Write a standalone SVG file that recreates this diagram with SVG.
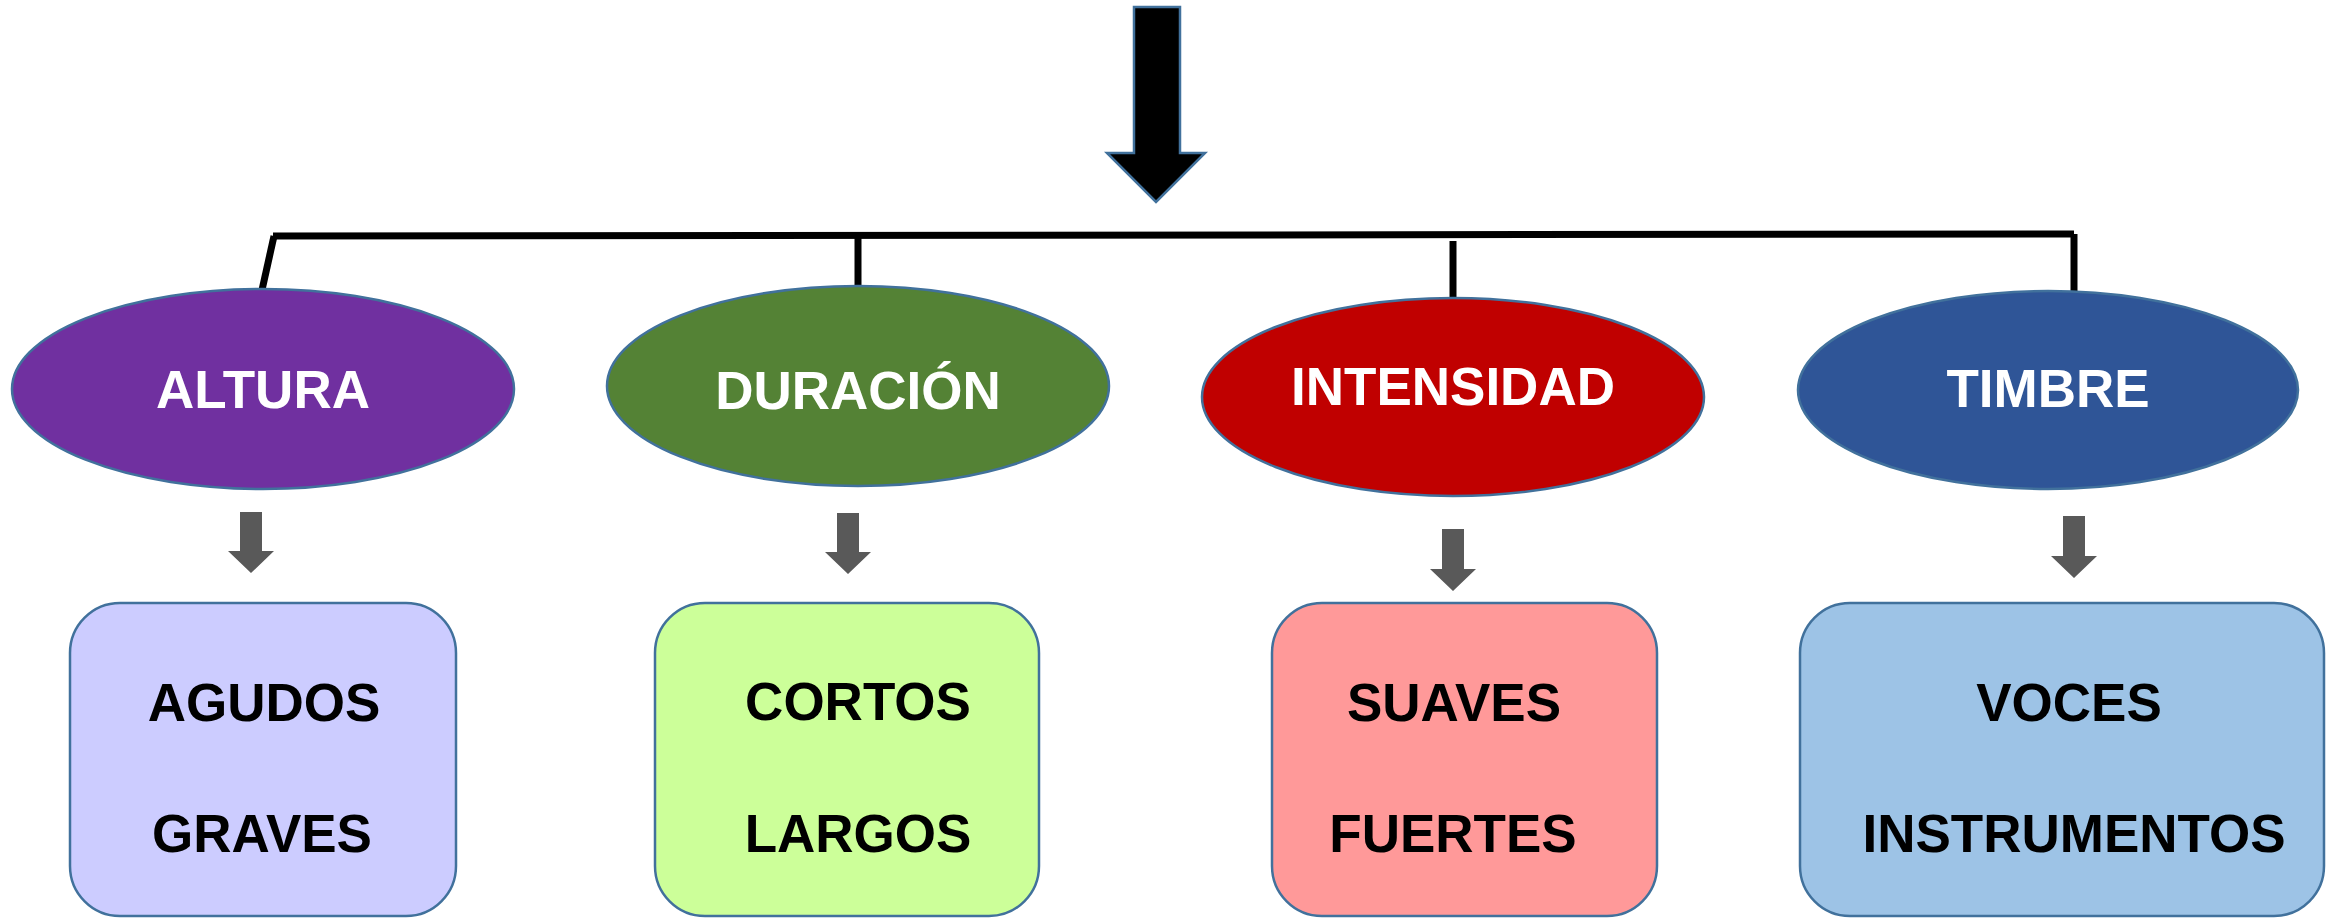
<svg xmlns="http://www.w3.org/2000/svg" width="2336" height="919" viewBox="0 0 2336 919">
<defs>
<style>
.ell{stroke:#41719C;stroke-width:2.5}
.box{stroke:#41719C;stroke-width:2.5}
.ht{font-family:"Liberation Sans",Arial,sans-serif;font-weight:bold;font-size:53px;fill:#ffffff;text-anchor:middle}
.bt{font-family:"Liberation Sans",Arial,sans-serif;font-weight:bold;font-size:53px;fill:#000000;text-anchor:middle}
.conn{stroke:#000000;stroke-width:7;fill:none}
.garrow{fill:#595959}
</style>
</defs>
<rect width="2336" height="919" fill="#ffffff"/>
<g id="connectors">
<path d="M1134,7 H1180 V153 H1205 L1156,202 L1107,153 H1134 Z" fill="#000000" stroke="#41719C" stroke-width="2.5"/>
<line class="conn" x1="273" y1="236" x2="2074" y2="234"/>
<line class="conn" x1="274" y1="236" x2="262" y2="290"/>
<line class="conn" x1="858" y1="237" x2="858" y2="287"/>
<line class="conn" x1="1453" y1="241" x2="1453" y2="298"/>
<line class="conn" x1="2074" y1="234" x2="2074" y2="292"/>
<path class="garrow" d="M240,512 H262 V551 H274 L251,573 L228,551 H240 Z"/>
<path class="garrow" d="M837,513 H859 V552 H871 L848,574 L825,552 H837 Z"/>
<path class="garrow" d="M1442,529 H1464 V569 H1476 L1453,591 L1430,569 H1442 Z"/>
<path class="garrow" d="M2063,516 H2085 V556 H2097 L2074,578 L2051,556 H2063 Z"/>
</g>
<g id="altura">
<ellipse class="ell" cx="263" cy="389" rx="251" ry="100" fill="#7030A0"/>
<text class="ht" x="263" y="408">ALTURA</text>
</g>
<g id="duracion">
<ellipse class="ell" cx="858" cy="386" rx="251" ry="100" fill="#548235"/>
<text class="ht" x="858" y="409">DURACIÓN</text>
</g>
<g id="intensidad">
<ellipse class="ell" cx="1453" cy="397" rx="251" ry="99" fill="#C00000"/>
<text class="ht" x="1453" y="405">INTENSIDAD</text>
</g>
<g id="timbre">
<ellipse class="ell" cx="2048" cy="390" rx="250" ry="99" fill="#2F5597"/>
<text class="ht" x="2048" y="407">TIMBRE</text>
</g>
<g id="altura-box">
<rect class="box" x="70" y="603" width="386" height="313" rx="50" ry="50" fill="#CCCCFF"/>
<text class="bt" x="264" y="721">AGUDOS</text>
<text class="bt" x="262" y="852">GRAVES</text>
</g>
<g id="duracion-box">
<rect class="box" x="655" y="603" width="384" height="313" rx="50" ry="50" fill="#CCFF99"/>
<text class="bt" x="858" y="720">CORTOS</text>
<text class="bt" x="858" y="852">LARGOS</text>
</g>
<g id="intensidad-box">
<rect class="box" x="1272" y="603" width="385" height="313" rx="50" ry="50" fill="#FF9999"/>
<text class="bt" x="1454" y="721">SUAVES</text>
<text class="bt" x="1453" y="852">FUERTES</text>
</g>
<g id="timbre-box">
<rect class="box" x="1800" y="603" width="524" height="313" rx="50" ry="50" fill="#9DC3E6"/>
<text class="bt" x="2069" y="721">VOCES</text>
<text class="bt" x="2074" y="852">INSTRUMENTOS</text>
</g>
</svg>
